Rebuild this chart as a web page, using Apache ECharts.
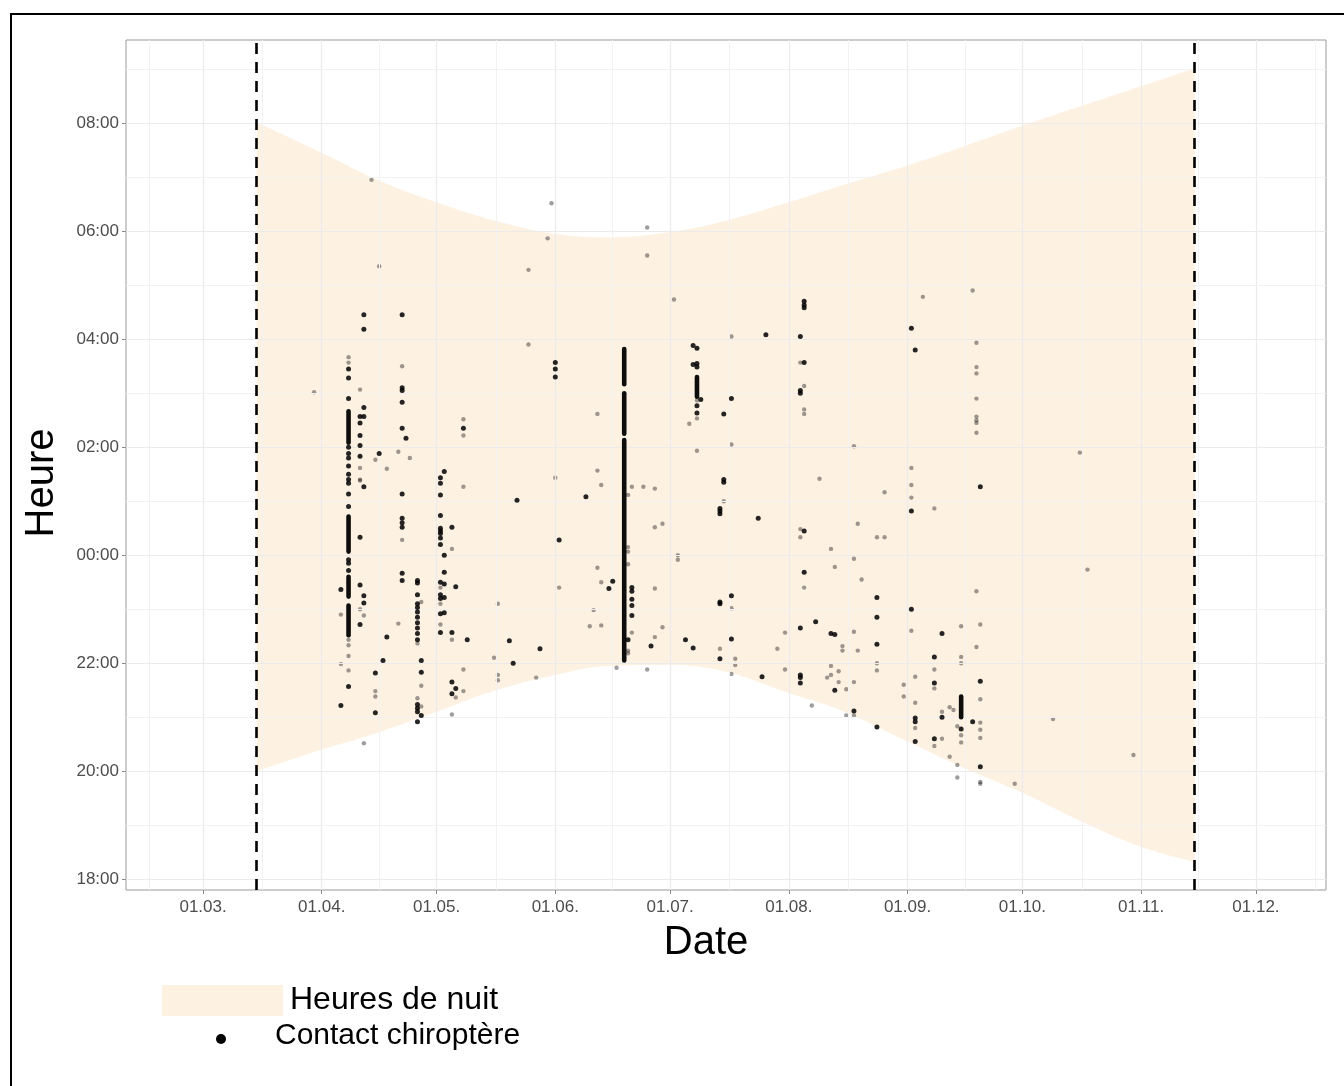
<!DOCTYPE html>
<html>
<head>
<meta charset="utf-8">
<title>Contacts chiroptères</title>
<script src="https://cdn.jsdelivr.net/npm/echarts@6/dist/echarts.min.js"></script>
<style>
    html, body { margin: 0; padding: 0; background: #fff; }
    #chart { width: 1344px; height: 1086px; }
</style>
</head>
<body>
<div id="chart"></div>
<script>
// année de référence (non bissextile)
var YEAR = 2021;

// heures de nuit : début (coucher) et fin (lever)
var nightDates = ['03-15', '04-01', '04-15', '05-01', '05-15', '06-01', '06-15', '07-01', '07-15',
                  '08-01', '08-15', '09-01', '09-15', '10-01', '10-15', '11-01', '11-15'];
var nightStart = ['20:00', '20:24', '20:42', '21:06', '21:28', '21:47', '21:57', '21:58', '21:51',
                  '21:27', '21:07', '20:33', '20:05', '19:36', '19:07', '18:36', '18:19'];
var nightEnd   = ['08:01', '07:27', '06:58', '06:32', '06:13', '05:57', '05:53', '05:59', '06:11',
                  '06:32', '06:51', '07:13', '07:33', '07:57', '08:17', '08:41', '09:01'];

// début / fin de la période d'écoute (pointillés)
var periodLimits = ['03-15', '11-15'];

// graduations
var monthTicks = ['03-01', '04-01', '05-01', '06-01', '07-01', '08-01', '09-01', '10-01', '11-01', '12-01'];
var hourTicks = ['18:00', '20:00', '22:00', '00:00', '02:00', '04:00', '06:00', '08:00'];

// contacts isolés (gris)
var contactsLight = [
    ['03-30','03:01'],
    ['04-06','22:54'],['04-06','21:59'],
    ['04-08','03:40'],['04-08','03:34'],['04-08','22:26'],['04-08','22:20'],['04-08','22:08'],['04-08','21:52'],
    ['04-11','03:04'],['04-11','01:24'],['04-11','01:37'],['04-11','01:23'],['04-11','23:00'],
    ['04-12','22:53'],['04-12','20:31'],
    ['04-14','06:57'],
    ['04-15','01:46'],['04-15','21:29'],['04-15','21:23'],
    ['04-16','05:21'],['04-18','01:36'],
    ['04-21','01:55'],['04-21','22:44'],
    ['04-22','03:30'],['04-22','00:17'],
    ['04-24','01:48'],
    ['04-26','22:22'],['04-26','21:21'],
    ['04-27','23:08'],['04-27','21:35'],['04-27','21:12'],
    ['05-02','23:24'],['05-02','23:06'],['05-02','22:43'],
    ['05-05','00:07'],['05-05','22:26'],['05-05','21:03'],
    ['05-06','21:22'],
    ['05-08','02:31'],['05-08','02:13'],['05-08','01:16'],['05-08','21:53'],['05-08','21:29'],
    ['05-16','22:06'],['05-17','23:06'],['05-17','21:47'],['05-17','21:41'],
    ['05-25','05:17'],['05-25','03:54'],['05-27','21:44'],
    ['05-30','05:52'],['05-31','06:31'],
    ['06-01','01:26'],['06-02','23:24'],
    ['06-10','22:41'],['06-11','22:59'],['06-12','02:37'],['06-12','01:34'],['06-12','23:46'],
    ['06-13','01:18'],['06-13','23:30'],['06-13','22:42'],
    ['06-17','21:55'],
    ['06-20','01:07'],['06-20','00:09'],['06-20','00:04'],['06-20','23:50'],['06-20','22:14'],['06-20','22:11'],
    ['06-21','01:16'],['06-21','22:34'],
    ['06-24','01:16'],['06-25','06:04'],['06-25','05:33'],['06-25','21:53'],
    ['06-27','01:14'],['06-27','00:31'],['06-27','23:23'],['06-27','22:29'],
    ['06-29','00:35'],['06-29','22:40'],
    ['07-02','04:44'],['07-03','00:00'],['07-03','23:55'],
    ['07-06','02:26'],['07-08','02:52'],['07-08','02:32'],['07-08','01:56'],
    ['07-14','22:16'],['07-15','01:00'],
    ['07-17','04:03'],['07-17','02:03'],['07-17','23:01'],['07-17','21:48'],
    ['07-18','22:05'],['07-18','21:58'],
    ['07-29','22:16'],['07-31','22:34'],['07-31','21:53'],
    ['08-04','03:34'],['08-04','00:29'],['08-04','00:20'],
    ['08-05','03:08'],['08-05','02:42'],['08-05','02:37'],['08-05','23:24'],
    ['08-07','21:13'],['08-09','01:25'],
    ['08-11','21:44'],['08-12','00:07'],['08-12','21:57'],['08-12','21:47'],['08-13','23:47'],
    ['08-14','21:51'],['08-14','21:39'],['08-15','22:19'],['08-15','22:14'],['08-16','21:31'],['08-16','21:02'],
    ['08-18','02:01'],['08-18','23:56'],['08-18','22:35'],['08-18','21:39'],['08-18','21:02'],
    ['08-19','00:35'],['08-19','22:14'],['08-20','23:33'],
    ['08-24','00:20'],['08-24','22:00'],['08-24','21:52'],
    ['08-26','01:10'],['08-26','00:20'],
    ['08-31','21:36'],['08-31','21:23'],
    ['09-02','01:37'],['09-02','01:18'],['09-02','01:04'],['09-02','22:36'],
    ['09-03','21:45'],['09-03','21:16'],['09-03','20:48'],
    ['09-05','04:47'],
    ['09-08','00:52'],['09-08','21:53'],['09-08','21:32'],['09-08','20:28'],
    ['09-10','21:06'],['09-10','20:36'],
    ['09-12','21:11'],['09-12','20:16'],['09-13','21:08'],
    ['09-14','20:50'],['09-14','20:07'],['09-14','19:53'],
    ['09-15','22:41'],['09-15','22:07'],['09-15','22:00'],['09-15','20:40'],['09-15','20:32'],
    ['09-18','04:54'],
    ['09-19','03:56'],['09-19','03:29'],['09-19','03:22'],['09-19','02:54'],['09-19','02:34'],['09-19','02:30'],
    ['09-19','02:27'],['09-19','02:16'],['09-19','23:20'],['09-19','22:18'],
    ['09-20','22:43'],['09-20','21:20'],['09-20','20:54'],['09-20','20:46'],['09-20','20:37'],['09-20','19:48'],['09-20','19:46'],
    ['09-29','19:46'],['10-09','20:58'],['10-16','01:54'],['10-18','23:44'],['10-30','20:18']
];

// contacts superposés (noirs)
var contactsDark = [
    ['04-06','23:22'],['04-06','21:13'],
    ['04-08','03:27'],['04-08','03:17'],['04-08','02:54'],['04-08','02:00'],['04-08','01:53'],['04-08','01:48'],
    ['04-08','01:39'],['04-08','01:30'],['04-08','01:24'],['04-08','01:20'],['04-08','01:08'],['04-08','00:54'],
    ['04-08','23:55'],['04-08','23:51'],['04-08','23:43'],['04-08','21:34'],
    ['04-11','02:34'],['04-11','02:27'],['04-11','02:13'],['04-11','02:02'],['04-11','01:50'],['04-11','00:20'],
    ['04-11','23:27'],['04-11','22:43'],
    ['04-12','04:27'],['04-12','04:11'],['04-12','02:44'],['04-12','02:34'],['04-12','01:16'],['04-12','23:15'],['04-12','23:07'],
    ['04-15','21:49'],['04-15','21:05'],
    ['04-16','01:53'],['04-17','22:03'],['04-18','22:29'],
    ['04-22','04:27'],['04-22','03:06'],['04-22','03:03'],['04-22','02:50'],['04-22','02:21'],['04-22','01:08'],
    ['04-22','00:41'],['04-22','00:36'],['04-22','00:31'],['04-22','23:40'],['04-22','23:32'],
    ['04-23','02:10'],
    ['04-26','23:32'],['04-26','23:29'],['04-26','23:16'],['04-26','23:06'],['04-26','23:02'],['04-26','22:57'],
    ['04-26','22:51'],['04-26','22:45'],['04-26','22:39'],['04-26','22:33'],['04-26','22:26'],['04-26','21:14'],
    ['04-26','21:10'],['04-26','21:06'],['04-26','20:55'],
    ['04-27','22:03'],['04-27','21:50'],['04-27','21:02'],
    ['05-02','01:26'],['05-02','01:20'],['05-02','01:07'],['05-02','00:44'],['05-02','00:30'],['05-02','00:27'],
    ['05-02','00:24'],['05-02','00:19'],['05-02','00:12'],['05-02','23:30'],['05-02','23:16'],['05-02','23:12'],
    ['05-02','22:55'],['05-02','22:34'],
    ['05-03','01:33'],['05-03','00:00'],['05-03','23:41'],['05-03','23:28'],['05-03','23:13'],['05-03','22:56'],
    ['05-05','00:31'],['05-05','22:34'],['05-05','21:39'],['05-05','21:26'],
    ['05-06','23:25'],['05-06','21:32'],
    ['05-08','02:21'],['05-09','22:26'],['05-20','22:25'],['05-21','22:00'],['05-22','01:01'],['05-28','22:16'],
    ['06-01','03:34'],['06-01','03:27'],['06-01','03:18'],['06-02','00:17'],
    ['06-09','01:05'],['06-15','23:23'],['06-16','23:31'],
    ['06-20','22:26'],
    ['06-21','23:24'],['06-21','23:20'],['06-21','23:11'],['06-21','23:04'],['06-21','22:53'],
    ['06-26','22:19'],
    ['07-05','22:26'],
    ['07-07','03:53'],['07-07','03:32'],['07-07','22:17'],
    ['07-08','03:50'],['07-08','03:33'],['07-08','03:29'],['07-08','02:46'],['07-08','02:38'],
    ['07-09','02:53'],
    ['07-14','00:52'],['07-14','00:49'],['07-14','00:46'],['07-14','23:08'],['07-14','23:06'],['07-14','22:05'],
    ['07-15','02:37'],['07-15','01:24'],['07-15','01:21'],
    ['07-17','02:54'],['07-17','23:15'],['07-17','22:27'],
    ['07-24','00:41'],['07-25','21:45'],['07-26','04:05'],
    ['08-04','04:03'],['08-04','03:03'],['08-04','03:00'],['08-04','22:39'],['08-04','21:47'],['08-04','21:44'],['08-04','21:38'],
    ['08-05','04:42'],['08-05','04:38'],['08-05','04:35'],['08-05','03:34'],['08-05','00:27'],['08-05','23:41'],
    ['08-08','22:46'],['08-12','22:33'],['08-13','22:32'],['08-13','21:30'],['08-18','21:07'],
    ['08-24','23:13'],['08-24','22:51'],['08-24','22:21'],['08-24','20:49'],
    ['09-02','04:12'],['09-02','00:49'],['09-02','23:00'],
    ['09-03','03:48'],['09-03','20:59'],['09-03','20:55'],['09-03','20:33'],
    ['09-08','22:07'],['09-08','21:38'],['09-08','20:36'],
    ['09-10','22:33'],['09-10','21:00'],
    ['09-15','20:47'],['09-18','20:55'],
    ['09-20','01:16'],['09-20','21:40'],['09-20','20:05']
];

// séquences de contacts continus (date, de, à)
var contactRuns = [
    ['04-08','02:40','02:05'], ['04-08','00:43','00:04'], ['04-08','23:36','23:14'], ['04-08','23:04','22:31'],
    ['06-19','03:49','03:10'], ['06-19','03:00','02:15'], ['06-19','02:08','22:03'],
    ['07-08','03:18','02:56'],
    ['09-15','21:23','21:00']
];

//---------------------------------------------------------------
function toTime(md){
    var p = md.split('-');
    return new Date(YEAR, +p[0] - 1, +p[1]).getTime();
}
// heures comptées depuis midi (18:00 -> 6, 00:00 -> 12, 08:00 -> 20)
function toHour(hm){
    var p = hm.split(':');
    var h = +p[0] + (+p[1]) / 60;
    return h >= 12 ? h - 12 : h + 12;
}
function pad(n){ return (n < 10 ? '0' : '') + n; }
function fmtHour(v){ return pad(Math.round(v + 12) % 24) + ':00'; }
function fmtDate(v){ var d = new Date(v); return pad(d.getDate()) + '.' + pad(d.getMonth() + 1) + '.'; }

var xMin = new Date(YEAR, 1, 8, 21).getTime();
var xMax = new Date(YEAR, 11, 19, 7).getTime();
var yMin = 5.8, yMax = 21.54;

var bandColor = 'rgba(250,225,190,0.45)';
var font = '"Liberation Sans", Arial, sans-serif';

// lignes de grille (majeures / mineures)
var gridLines = [];
var monthStarts = [];
for (var m = 1; m <= 12; m++) monthStarts.push(new Date(YEAR, m, 1).getTime());
monthStarts.forEach(function (t, i) {
    if (t >= xMin && t <= xMax) gridLines.push({ xAxis: t, lineStyle: { color: '#ebebeb', width: 1.2, type: 'solid' } });
    if (i > 0) gridLines.push({ xAxis: (t + monthStarts[i - 1]) / 2, lineStyle: { color: '#f2f2f2', width: 1, type: 'solid' } });
});
hourTicks.forEach(function (h) {
    var v = toHour(h);
    gridLines.push({ yAxis: v, lineStyle: { color: '#ebebeb', width: 1.2, type: 'solid' } });
    gridLines.push({ yAxis: v + 1, lineStyle: { color: '#f2f2f2', width: 1, type: 'solid' } });
});

// bande de nuit : [heure, date] pour que l'empilement porte sur l'heure
var bandLow = nightDates.map(function (d, i) { return [toHour(nightStart[i]), toTime(d)]; });
var bandHeight = nightDates.map(function (d, i) { return [toHour(nightEnd[i]) - toHour(nightStart[i]), toTime(d)]; });

var option = {
    animation: false,
    grid: {
        left: 126, top: 40, right: 18, bottom: 196,
        show: true, borderColor: '#9a9a9a', borderWidth: 1, backgroundColor: '#fff'
    },
    xAxis: {
        type: 'value',
        min: xMin, max: xMax,
        axisLine: { show: false },
        splitLine: { show: false },
        axisTick: { show: true, length: 4, lineStyle: { color: '#888' }, customValues: monthTicks.map(toTime) },
        axisLabel: {
            customValues: monthTicks.map(toTime),
            formatter: function (v) { return fmtDate(v); },
            color: '#4d4d4d', fontSize: 17, fontFamily: font, margin: 9
        }
    },
    yAxis: {
        type: 'value',
        min: yMin, max: yMax,
        axisLine: { show: false },
        splitLine: { show: false },
        axisTick: { show: true, length: 4, lineStyle: { color: '#888' }, customValues: hourTicks.map(toHour) },
        axisLabel: {
            customValues: hourTicks.map(toHour),
            formatter: function (v) { return fmtHour(v); },
            color: '#4d4d4d', fontSize: 17, fontFamily: font, margin: 7
        }
    },
    series: [
        {
            // grille
            type: 'line', data: [], z: 1, silent: true,
            markLine: { silent: true, symbol: ['none', 'none'], label: { show: false }, data: gridLines, animation: false }
        },
        {
            name: 'nuitBas', type: 'line', stack: 'nuit', data: bandLow, z: 2,
            encode: { x: 1, y: 0 },
            smooth: 0.4, symbol: 'none', silent: true, lineStyle: { opacity: 0 }
        },
        {
            name: 'Heures de nuit', type: 'line', stack: 'nuit', data: bandHeight, z: 2,
            encode: { x: 1, y: 0 },
            smooth: 0.4, symbol: 'none', silent: true,
            lineStyle: { opacity: 0 }, areaStyle: { color: bandColor, opacity: 1 }
        },
        {
            // limites de période
            type: 'line', data: [], z: 3, silent: true,
            markLine: {
                silent: true, symbol: ['none', 'none'], label: { show: false }, animation: false,
                lineStyle: { color: '#000', width: 2.6, type: [11, 8] },
                data: periodLimits.map(function (d) { return { xAxis: toTime(d) }; })
            }
        },
        {
            name: 'Contact chiroptère', type: 'scatter', z: 4, silent: true,
            symbolSize: 4.4, itemStyle: { color: '#000', opacity: 0.38 },
            data: contactsLight.map(function (c) { return [toTime(c[0]), toHour(c[1])]; })
        },
        {
            type: 'scatter', z: 5, silent: true,
            symbolSize: 5, itemStyle: { color: '#000', opacity: 0.85 },
            data: contactsDark.map(function (c) { return [toTime(c[0]), toHour(c[1])]; })
        },
        {
            type: 'custom', z: 5, silent: true,
            encode: { x: 0, y: [1, 2] },
            data: contactRuns.map(function (r) { return [toTime(r[0]), toHour(r[1]), toHour(r[2])]; }),
            renderItem: function (params, api) {
                var p1 = api.coord([api.value(0), api.value(1)]);
                var p2 = api.coord([api.value(0), api.value(2)]);
                return {
                    type: 'line',
                    shape: { x1: p1[0], y1: p1[1], x2: p2[0], y2: p2[1] },
                    style: { stroke: '#000', lineWidth: 4.6, lineCap: 'round', opacity: 0.95 }
                };
            }
        }
    ],
    graphic: [
        { type: 'rect', x: 11, y: 14, silent: true, z: 100,
          shape: { x: 0, y: 0, width: 1340, height: 1080 }, style: { fill: 'none', stroke: '#000', lineWidth: 2 } },
        { type: 'text', x: 706, y: 943, silent: true,
          style: { text: 'Date', font: '40px ' + font, fill: '#000', align: 'center', verticalAlign: 'middle' } },
        { type: 'text', x: 42, y: 483, rotation: Math.PI / 2, silent: true,
          style: { text: 'Heure', font: '40px ' + font, fill: '#000', align: 'center', verticalAlign: 'middle' } },
        // légende
        { type: 'rect', silent: true, shape: { x: 162, y: 985, width: 121, height: 31 }, style: { fill: bandColor } },
        { type: 'text', x: 290, y: 1000, silent: true,
          style: { text: 'Heures de nuit', font: '32px ' + font, fill: '#000', verticalAlign: 'middle' } },
        { type: 'circle', silent: true, shape: { cx: 221, cy: 1039, r: 5 }, style: { fill: '#000' } },
        { type: 'text', x: 275, y: 1036, silent: true,
          style: { text: 'Contact chiroptère', font: '30px ' + font, fill: '#000', verticalAlign: 'middle' } }
    ]
};

var myChart = echarts.init(document.getElementById('chart'));
myChart.setOption(option, true);
</script>
</body>
</html>
